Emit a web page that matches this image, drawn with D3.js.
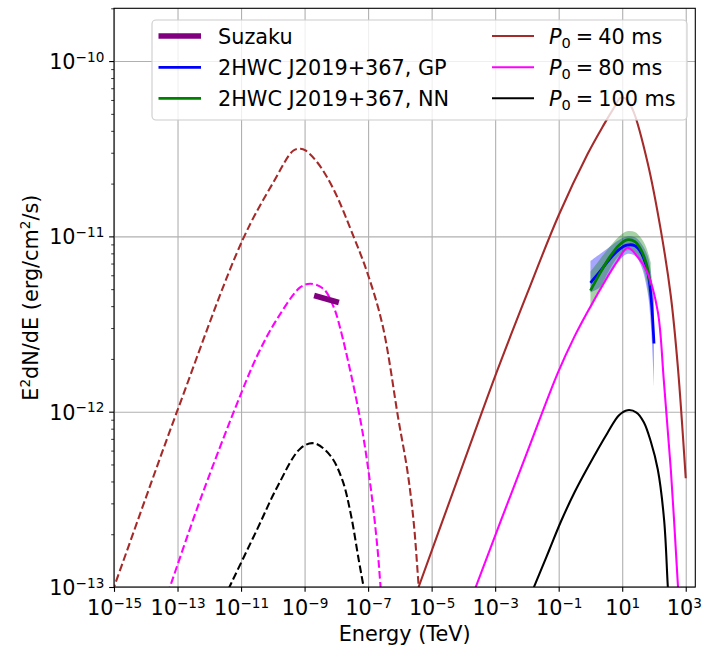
<!DOCTYPE html>
<html><head><meta charset="utf-8">
<script src="https://cdn.jsdelivr.net/npm/d3@7"></script>
<style>
body{margin:0;background:#fff}
svg{display:block}
text{font-family:"DejaVu Sans",sans-serif;fill:#000}
</style>
</head><body>
<svg id="chart" width="702" height="651"></svg>
<script>
// ---------- data ----------
const xTickValues = [1e-15,1e-13,1e-11,1e-9,1e-7,1e-5,1e-3,1e-1,1e1,1e3];
const xTickExponents = ["−15","−13","−11","−9","−7","−5","−3","−1","1","3"];
const yTickValues = [1e-13,1e-12,1e-11,1e-10];
const yTickExponents = ["−13","−12","−11","−10"];

// Synchrotron (dashed) models
const sync40E = [1e-16,1e-15,1e-13,1.12e-11,1.05e-10,4.47e-10,7.41e-10,1.07e-9,2.57e-9,8.13e-9,3.47e-8,9.55e-8,2.88e-7,9.12e-7,1.70e-6,2.69e-6,3.89e-6,5.01e-6];
const sync40F = [3.16e-14,1.0e-13,1.02e-12,9.55e-12,2.04e-11,3.09e-11,3.16e-11,3.09e-11,2.63e-11,1.86e-11,1.0e-11,6.17e-12,3.09e-12,8.91e-13,4.68e-13,2.40e-13,1.02e-13,5.6e-14];
const sync80E = [1e-14,6.31e-14,5.25e-13,7.59e-12,3.24e-11,1.38e-10,7.41e-10,1.55e-9,3.98e-9,8.13e-9,1.35e-8,5.75e-8,1.20e-7,1.95e-7,2.45e-7,3.16e-7];
const sync80F = [4.0e-14,1.05e-13,3.16e-13,1.12e-12,2.09e-12,3.39e-12,5.13e-12,5.37e-12,5.01e-12,3.98e-12,2.95e-12,8.91e-13,3.72e-13,1.70e-13,1.02e-13,5.9e-14];
const sync100E = [1e-12,4.90e-12,3.24e-11,1.38e-10,7.41e-10,1.95e-9,6.46e-9,1.55e-8,2.82e-8,5.13e-8,7.08e-8,1e-7];
const sync100F = [5.75e-14,1.05e-13,2.14e-13,3.72e-13,6.17e-13,6.61e-13,5.62e-13,4.07e-13,2.63e-13,1.41e-13,1.02e-13,7.1e-14];

// Inverse Compton (solid) models
const ic40E = [3.98e-7,3.89e-6,1e-4,1.17e-3,1e-2,0.1,0.813,2.51,5.37,8.91,14.1,22.9,63.1,162,339,562,1000];
const ic40F = [3.16e-14,1.0e-13,5.07e-13,1.72e-12,4.68e-12,1.32e-11,2.95e-11,4.27e-11,5.37e-11,6.17e-11,6.03e-11,5.13e-11,2.63e-11,1.10e-11,4.57e-12,1.82e-12,4.17e-13];
const ic80E = [2.5e-5,2.45e-4,1e-2,9.33e-2,0.316,0.813,3.47,7.08,14.8,31.6,63.1,132,204,339,562,708];
const ic80F = [3.16e-14,1.0e-13,5.82e-13,1.66e-12,2.69e-12,3.72e-12,5.89e-12,7.24e-12,8.61e-12,7.59e-12,6.17e-12,3.72e-12,1.51e-12,4.68e-13,1.05e-13,5.2e-14];
const ic100E = [3.16e-3,1.86e-2,5.01e-2,0.115,0.316,0.813,3.47,7.94,14.8,28.2,47.9,79.4,132,209,269,316];
const ic100F = [4.8e-14,1.05e-13,1.62e-13,2.34e-13,3.47e-13,4.79e-13,7.59e-13,9.55e-13,1.02e-12,9.89e-13,8.71e-13,6.76e-13,4.68e-13,2.40e-13,1.05e-13,6.3e-14];

// Suzaku
const suzakuE = [2e-9,1.2e-8];
const suzakuF = [4.6e-12,4.2e-12];

// 2HWC J2019+367 GP
const gpE =     [1.0,    2.0,    3.98,   7.94,   14.1,   25.1,   39.8,   63.1,   79.4,   100];
const gpF =     [5.43e-12,6.31e-12,7.41e-12,8.41e-12,8.91e-12,8.85e-12,8.04e-12,6.31e-12,4.68e-12,2.45e-12];
const gpUpper = [7.24e-12,7.94e-12,8.71e-12,9.55e-12,1.0e-11,9.89e-12,9.12e-12,7.76e-12,6.31e-12,4.47e-12];
const gpLower = [4.79e-12,5.13e-12,6.03e-12,7.24e-12,7.94e-12,7.76e-12,6.76e-12,4.79e-12,3.16e-12,1.41e-12];
// 2HWC J2019+367 NN
const nnE =     [1.0,    2.0,    3.98,   7.94,   14.1,   25.1,   39.8,   56.2,   79.4];
const nnF =     [4.9e-12,6.17e-12,7.59e-12,8.91e-12,9.55e-12,9.33e-12,8.32e-12,7.08e-12,5.25e-12];
const nnUpper = [6.31e-12,7.41e-12,8.71e-12,1.0e-11,1.07e-11,1.06e-11,9.77e-12,8.71e-12,7.08e-12];
const nnLower = [3.80e-12,5.01e-12,6.46e-12,7.76e-12,8.32e-12,8.13e-12,7.08e-12,5.75e-12,3.80e-12];

const legendLeft = ["Suzaku","2HWC J2019+367, GP","2HWC J2019+367, NN"];
const legendRight = ["40","80","100"];

// ---------- layout ----------
const L=114, R=695.3, T=8.3, B=587;
const FS=20.8, SUP=13.6;
const svg = d3.select("#chart");
const x = d3.scaleLog().domain([1e-15,2e3]).range([L,R]);
const y = d3.scaleLog().domain([1e-13,2e-10]).range([B,T]);

svg.append("defs").append("clipPath").attr("id","clip")
  .append("rect").attr("x",L).attr("y",T).attr("width",R-L).attr("height",B-T);

// grid
const grid = svg.append("g");
grid.append("g").attr("transform",`translate(0,${B})`)
  .call(d3.axisBottom(x).tickValues(xTickValues).tickSize(-(B-T)).tickFormat(""))
  .call(g=>g.select(".domain").remove())
  .call(g=>g.selectAll("line").attr("stroke","#b0b0b0").attr("stroke-width",1.1));
grid.append("g").attr("transform",`translate(${L},0)`)
  .call(d3.axisLeft(y).tickValues(yTickValues).tickSize(-(R-L)).tickFormat(""))
  .call(g=>g.select(".domain").remove())
  .call(g=>g.selectAll("line").attr("stroke","#b0b0b0").attr("stroke-width",1.1));

const plot = svg.append("g").attr("clip-path","url(#clip)");
const curve = d3.curveCatmullRom.alpha(0.5);
const line = d3.line().x(d=>x(d[0])).y(d=>y(d[1])).curve(curve);
const zip = (a,b)=>a.map((v,i)=>[v,b[i]]);

const models = [
  [sync40E,sync40F,"#a52a2a",true],[sync80E,sync80F,"#ff00ff",true],[sync100E,sync100F,"#000000",true],
  [ic40E,ic40F,"#a52a2a",false],[ic80E,ic80F,"#ff00ff",false],[ic100E,ic100F,"#000000",false]
];

// bands
const area = d3.area().x(d=>x(d[0])).y0(d=>y(d[1])).y1(d=>y(d[2])).curve(curve);
plot.append("path").attr("d",area(gpE.map((e,i)=>[e,gpLower[i],gpUpper[i]])))
  .attr("fill","#0000ff").attr("fill-opacity",0.35);
plot.append("path").attr("d",area(nnE.map((e,i)=>[e,nnLower[i],nnUpper[i]])))
  .attr("fill","#008000").attr("fill-opacity",0.35);

plot.append("path").attr("d",line(zip(gpE,gpF))).attr("fill","none").attr("stroke","#0000ff").attr("stroke-width",2.8);
plot.append("path").attr("d",line(zip(nnE,nnF))).attr("fill","none").attr("stroke","#008000").attr("stroke-width",2.8);

models.forEach(([E,F,c,dash])=>{
  plot.append("path").attr("d",line(zip(E,F))).attr("fill","none")
    .attr("stroke",c).attr("stroke-width",2.08)
    .attr("stroke-dasharray",dash?"7.7,3.33":null);
});

plot.append("path").attr("d",d3.line().x(d=>x(d[0])).y(d=>y(d[1]))(zip(suzakuE,suzakuF)))
  .attr("fill","none").attr("stroke","#800080").attr("stroke-width",5.6);

// frame
svg.append("rect").attr("x",L).attr("y",T).attr("width",R-L).attr("height",B-T)
  .attr("fill","none").attr("stroke","#000").attr("stroke-width",1.1);

function supLabel(t, exp, anchor){
  t.text(null).attr("text-anchor",anchor).attr("font-size",FS).attr("fill","#000");
  t.append("tspan").text("10");
  t.append("tspan").attr("font-size",SUP).attr("dy",-7.5).text(exp);
}

// x axis
const gx = svg.append("g").attr("transform",`translate(0,${B})`)
  .call(d3.axisBottom(x).tickValues(xTickValues).tickSize(4.86).tickFormat(""));
gx.select(".domain").remove();
gx.selectAll(".tick line").attr("stroke","#000").attr("stroke-width",1.1);
gx.selectAll(".tick").each(function(d,i){
  const last = i === xTickValues.length-1;
  const t = d3.select(this).append("text").attr("y",28).attr("x",last?-2:0);
  supLabel(t, xTickExponents[i], "middle");
});

// y axis
const gy = svg.append("g").attr("transform",`translate(${L},0)`)
  .call(d3.axisLeft(y).tickValues(yTickValues).tickSize(4.86).tickFormat(""));
gy.select(".domain").remove();
gy.selectAll(".tick line").attr("stroke","#000").attr("stroke-width",1.1);
gy.selectAll(".tick").each(function(d,i){
  const t = d3.select(this).append("text").attr("x",-9.7).attr("y",7.5);
  supLabel(t, yTickExponents[i], "end");
});
const minorY = [];
yTickValues.forEach(v=>{ for(let m=2;m<=9;m++){ const mv=m*v; if(mv<=2e-10) minorY.push(mv);} });
const gym = svg.append("g").attr("transform",`translate(${L},0)`)
  .call(d3.axisLeft(y).tickValues(minorY).tickSize(2.8).tickFormat(""));
gym.select(".domain").remove();
gym.selectAll(".tick line").attr("stroke","#000").attr("stroke-width",0.8);

// axis labels
svg.append("text").attr("x",(L+R)/2).attr("y",641).attr("text-anchor","middle")
  .attr("font-size",FS).text("Energy (TeV)");
const yl = svg.append("text").attr("transform",`translate(38,${(T+B)/2}) rotate(-90)`)
  .attr("text-anchor","middle").attr("font-size",FS);
yl.append("tspan").text("E");
yl.append("tspan").attr("font-size",SUP).attr("dy",-8).text("2");
yl.append("tspan").attr("dy",8).text("dN/dE (erg/cm");
yl.append("tspan").attr("font-size",SUP).attr("dy",-8).text("2");
yl.append("tspan").attr("dy",8).text("/s)");

// legend
const lg = svg.append("g");
lg.append("rect").attr("x",152).attr("y",20).attr("width",535).attr("height",100).attr("rx",4)
  .attr("fill","#fff").attr("fill-opacity",0.8).attr("stroke","#cccccc").attr("stroke-width",1.1);
const rowsY = [36,67.3,98.3];
const leftStyles = [["#800080",5.6],["#0000ff",2.8],["#008000",2.8]];
legendLeft.forEach((lab,i)=>{
  lg.append("line").attr("x1",158.5).attr("x2",201).attr("y1",rowsY[i]).attr("y2",rowsY[i])
    .attr("stroke",leftStyles[i][0]).attr("stroke-width",leftStyles[i][1]);
  lg.append("text").attr("x",218).attr("y",rowsY[i]+8).attr("font-size",FS).text(lab);
});
const rightColors = ["#a52a2a","#ff00ff","#000000"];
legendRight.forEach((p,i)=>{
  lg.append("line").attr("x1",492).attr("x2",534).attr("y1",rowsY[i]).attr("y2",rowsY[i])
    .attr("stroke",rightColors[i]).attr("stroke-width",2.08);
  const t = lg.append("text").attr("x",549).attr("y",rowsY[i]+8).attr("font-size",FS);
  t.append("tspan").attr("font-style","italic").text("P");
  t.append("tspan").attr("font-size",SUP+1).attr("dy",4).text("0");
  t.append("tspan").attr("dy",-4).attr("dx",5).text("=");
  t.append("tspan").attr("dx",5).text(p);
  t.append("tspan").text(" ms");
});
</script>
</body></html>
